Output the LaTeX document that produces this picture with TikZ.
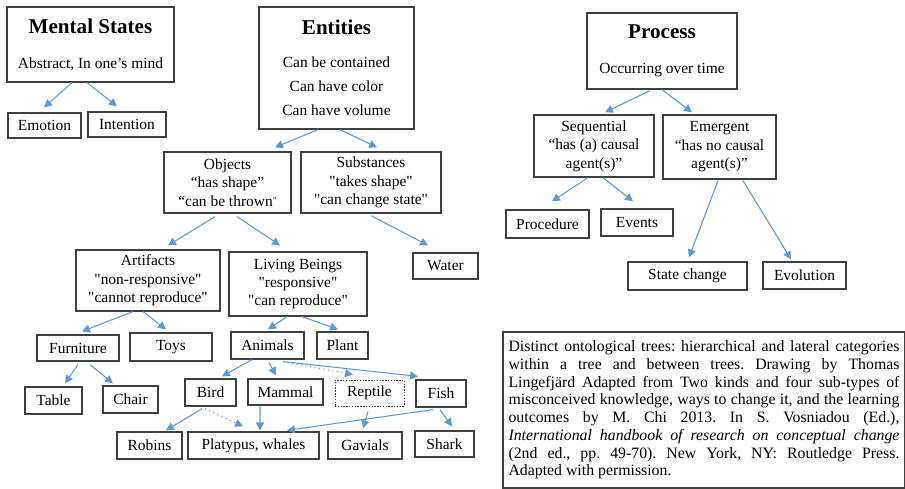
\documentclass[tikz,border=0pt]{standalone}
\usepackage{fontspec}
\setmainfont{Liberation Serif}
\usetikzlibrary{arrows.meta,calc}
\definecolor{arrblue}{HTML}{5B9BD5}
\definecolor{boxgray}{HTML}{404040}
\newcommand{\boxtitle}[1]{{\fontsize{12}{14}\selectfont\bfseries #1}}
\newcommand{\sq}{\textquotedbl}
\frenchspacing
\begin{document}
\begin{tikzpicture}[x=0.02cm,y=-0.02cm,
  box/.style={draw=boxgray,line width=0.7pt,inner sep=0pt,align=center,
    font=\fontsize{8.8}{10.5}\selectfont},
  sz/.style 2 args={minimum width=#1*0.02cm,minimum height=#2*0.02cm},
  arr/.style={arrblue,line width=0.6pt,-{Triangle[width=4.5pt,length=4.5pt]}}]
\useasboundingbox (0,0) rectangle (905,489);
%\draw (0,0) to[grid with coordinates] (905,489);

% mental states
\node[box,sz={167}{75}] (mental) at (90.5,44.5) {\boxtitle{Mental States}\\[9.4pt]Abstract, In one’s mind};
\node[box,sz={73}{25}]  (emotion)   at (44.5,125.5) {Emotion};
\node[box,sz={78}{25}]  (intention) at (127,124.5)  {Intention};

% entities
\node[box,sz={155}{122}] (entities) at (336.5,68) {\boxtitle{Entities}\\[8.1pt]Can be contained\\[3.4pt]Can have color\\[3.4pt]Can have volume};
\node[box,sz={127}{61}] (objects)    at (227.5,182.5) {Objects\\``has shape''\\``can be thrown\raisebox{1.5pt}{\fontsize{5}{5}\selectfont ''}};
\node[box,sz={140}{61}] (substances) at (371,182.5)   {Substances\\\sq takes shape\sq\\\sq can change state\sq};
\node[box,sz={144}{61}] (artifacts)  at (148,280.5)   {Artifacts\\\sq non-responsive\sq\\\sq cannot reproduce\sq};
\node[box,sz={138}{64}] (living)     at (298,284)     {Living Beings\\\sq responsive\sq\\\sq can reproduce\sq};
\node[box,sz={65}{26}]  (water)      at (445.5,266)   {Water};
\node[box,sz={82}{26}]  (furniture)  at (78,348)      {Furniture};
\node[box,sz={82}{28}]  (toys)       at (171,347)     {Toys};
\node[box,sz={73}{27}]  (animals)    at (267.5,345.5) {Animals};
\node[box,sz={51}{27}]  (plant)      at (342.5,345.5) {Plant};
\node[box,sz={57}{27}]  (table)      at (53.5,400.5)  {Table};
\node[box,sz={55}{27}]  (chair)      at (130.5,399.5) {Chair};
\node[box,sz={51}{27}]  (bird)       at (210.5,392.5) {Bird};
\node[box,sz={75}{26}]  (mammal)     at (285.5,392)   {Mammal};
\node[box,sz={69}{26},line width=0.5pt,dash pattern=on 0.8pt off 0.8pt] (reptile) at (369.5,393) {Reptile};
\node[box,sz={50}{27}]  (fish)       at (441,393.5)   {Fish};
\node[box,sz={65}{27}]  (robins)     at (149.5,445.5) {Robins};
\node[box,sz={131}{27}] (platypus)   at (253.5,445.5) {Platypus, whales};
\node[box,sz={74}{27}]  (gavials)    at (365,445.5)   {Gavials};
\node[box,sz={59}{26}]  (shark)      at (444.5,444)   {Shark};

% process
\node[box,sz={150}{76}] (process)    at (662,51)      {\boxtitle{Process}\\[9.4pt]Occurring over time};
\node[box,sz={120}{62}] (sequential) at (594,146)     {Sequential\\``has (a) causal\\agent(s)''};
\node[box,sz={113}{64}] (emergent)   at (719.5,147)   {Emergent\\``has no causal\\agent(s)''};
\node[box,sz={83}{28}]  (procedure)  at (547.5,224)   {Procedure};
\node[box,sz={72}{27}]  (events)     at (637,222.5)   {Events};
\node[box,sz={119}{28}] (statechange) at (687.5,276)  {State change};
\node[box,sz={83}{27}]  (evolution)  at (804.5,275.5) {Evolution};

% source note
\node[box,text width=7.82cm,inner xsep=0.11cm,minimum height=3.12cm,align=justify,
  font=\fontsize{9}{10.07}\selectfont] (note) at (704,410) {Distinct ontological trees: hierarchical and lateral categories\linebreak
within a tree and between trees. Drawing by Thomas\linebreak
Lingefjärd Adapted from Two kinds and four sub-types of\linebreak
misconceived knowledge, ways to change it, and the learning\linebreak
outcomes by M. Chi 2013. In S. Vosniadou (Ed.),\linebreak
\textit{International handbook of research on conceptual change}\linebreak
(2nd ed., pp. 49-70). New York, NY: Routledge Press.\linebreak
Adapted with permission.};

\draw[arr] ($(mental.south)+(-18.5,0)$)   -- ($(emotion.north)+(-0.5,-5)$);
\draw[arr] ($(mental.south)+(-3.5,0)$)    -- ($(intention.north)+(-10,-5)$);
\draw[arr] ($(entities.south)+(-18.5,0)$) -- ($(objects.north)+(47.5,-4)$);
\draw[arr] ($(entities.south)+(3.5,0)$)   -- ($(substances.north)+(6,-4)$);
\draw[arr] ($(objects.south)+(-12.5,3)$)  -- ($(artifacts.north)+(20,-4)$);
\draw[arr] ($(objects.south)+(9.5,3)$)    -- ($(living.north)+(-18,-6)$);
\draw[arr] ($(substances.south)+(0,2)$)   -- ($(water.north)+(-17.5,-7)$);
\draw[arr] ($(artifacts.south)+(-15,0)$)  -- ($(furniture.north)+(4,-3)$);
\draw[arr] ($(artifacts.south)+(-5,0)$)   -- ($(toys.north)+(-5,-3)$);
\draw[arr] ($(living.south)+(-11,0)$)     -- ($(animals.north)+(0.5,-2)$);
\draw[arr] ($(living.south)+(4,0)$)       -- ($(plant.north)+(-4.5,-2)$);
\draw[arr] ($(furniture.south)+(0,3)$)    -- ($(table.north)+(11.5,-3)$);
\draw[arr] ($(furniture.south)+(12,3)$)   -- ($(chair.north)+(-17.5,-2)$);
\draw[arr] ($(animals.south)+(-15.5,0)$)  -- ($(bird.north)+(11.5,-2)$);
\draw[arr] ($(animals.south)+(1.5,3)$)    -- ($(mammal.north)+(-9.5,-3)$);
\draw[arr,dotted] ($(animals.south)+(15.5,2)$) -- ($(reptile.north)+(-16.5,-5)$);
\draw[arr] ($(animals.south)+(15.5,2)$)   -- ($(fish.north)+(-23,-3)$);
\draw[arr] ($(bird.south)+(-8.5,2)$)      -- ($(robins.north)+(16.5,-1)$);
\draw[arr,dotted] ($(bird.south)+(-5.5,2)$) -- ($(platypus.north)+(-10.5,-5)$);
\draw[arr] ($(mammal.south)+(-25.5,1)$)   -- ($(platypus.north)+(6.5,-1)$);
\draw[arr] ($(reptile.south)+(-1.5,5)$)   -- ($(gavials.north)+(-2,-3)$);
\draw[arr] ($(fish.south)+(-8,2)$)        -- ($(platypus.north)+(33.5,-1)$);
\draw[arr] ($(fish.south)+(-1,2)$)        -- ($(shark.north)+(7.5,-4)$);
\draw[arr] ($(process.south)+(-12,1)$)    -- ($(sequential.north)+(11,-2)$);
\draw[arr] ($(process.south)+(0,0)$)      -- ($(emergent.north)+(-27.5,-2)$);
\draw[arr] ($(sequential.south)+(-6,0)$)  -- ($(procedure.north)+(4.5,-8)$);
\draw[arr] ($(sequential.south)+(9,0)$)   -- ($(events.north)+(-4,-7)$);
\draw[arr] ($(emergent.south)+(-1.5,1)$)  -- ($(statechange.north)+(1.5,-4)$);
\draw[arr] ($(emergent.south)+(23.5,1)$)  -- ($(evolution.north)+(-13.5,-2)$);
\end{tikzpicture}
\end{document}
